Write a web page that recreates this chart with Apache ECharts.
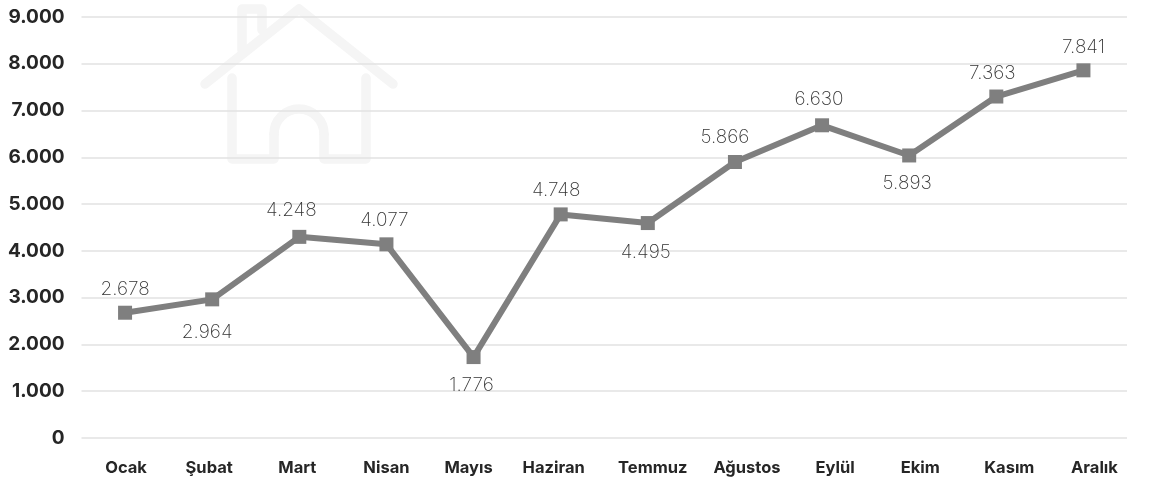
<!DOCTYPE html>
<html><head><meta charset="utf-8">
<style>html,body{margin:0;padding:0;background:#fff}#c{width:1151px;height:481px}</style>
<script src="https://cdn.jsdelivr.net/npm/echarts@6/dist/echarts.min.js"></script>
</head><body><div id="c"></div>
<script>
const categories=['Ocak','Şubat','Mart','Nisan','Mayıs','Haziran','Temmuz','Ağustos','Eylül','Ekim','Kasım','Aralık'];
const plotted=[2678,2964,4300,4140,1730,4780,4595,5900,6685,6040,7300,7860];
const labels=['2.678','2.964','4.248','4.077','1.776','4.748','4.495','5.866','6.630','5.893','7.363','7.841'];
const yTicks={min:0,max:9000,interval:1000};
const fmt=v=>v===0?'0':(v/1000)+'.000';
const chart=echarts.init(document.getElementById('c'),null,{renderer:'canvas'});
const wm={stroke:'#f5f5f5',lineWidth:9.5,lineCap:'round',lineJoin:'round',fill:null};
const labelNudge=[[0,-23],[-5,33],[-8,-27],[-2,-24],[-2,28],[-4.5,-24],[-2,29],[-10,-25],[-3,-26],[-2,28],[-4,-23],[0,-23]];
const tickNudge=[1,-3,-2,0,-5,-7,5,12,13,11,13,11];
chart.setOption({
 animation:false,
 grid:{left:81.5,right:24,top:17,bottom:43,containLabel:false},
 graphic:[
  {type:'polyline',z:0,shape:{points:[[205,84],[299,9],[393,84]]},style:wm},
  {type:'polyline',z:0,shape:{points:[[242,50],[242,9],[262,9],[262,30]]},style:wm},
  {type:'polyline',z:0,shape:{points:[[232,78],[232,159],[274,159],[274,134]]},style:wm},
  {type:'polyline',z:0,shape:{points:[[324,134],[324,159],[366,159],[366,78]]},style:wm},
  {type:'arc',z:0,shape:{cx:299,cy:134,r:25,startAngle:Math.PI,endAngle:2*Math.PI,clockwise:true},style:wm}
 ],
 xAxis:{type:'category',
  data:categories.map((c,i)=>({value:c,textStyle:{padding:tickNudge[i]>=0?[0,0,0,2*tickNudge[i]]:[0,-2*tickNudge[i],0,0]}})),
  axisLine:{show:false},axisTick:{show:false},
  axisLabel:{color:'#262626',fontFamily:'Inter',fontWeight:700,fontSize:16.5,margin:22,interval:0}},
 yAxis:{type:'value',...yTicks,axisLine:{show:false},axisTick:{show:false},
  splitLine:{lineStyle:{color:'#e2e2e2',width:1.6}},
  axisLabel:{color:'#262626',fontFamily:'Inter',fontWeight:700,fontSize:19,margin:17,formatter:fmt}},
 series:[{type:'line',data:plotted.map((v,i)=>({value:v,label:{position:'inside',offset:labelNudge[i],formatter:labels[i]}})),
  symbol:'rect',symbolSize:14,showSymbol:true,
  lineStyle:{color:'#7f7f7f',width:6},itemStyle:{color:'#7f7f7f'},
  label:{show:true,color:'#333333',fontFamily:'Inter',fontWeight:200,fontSize:19}}]
});
</script></body></html>
